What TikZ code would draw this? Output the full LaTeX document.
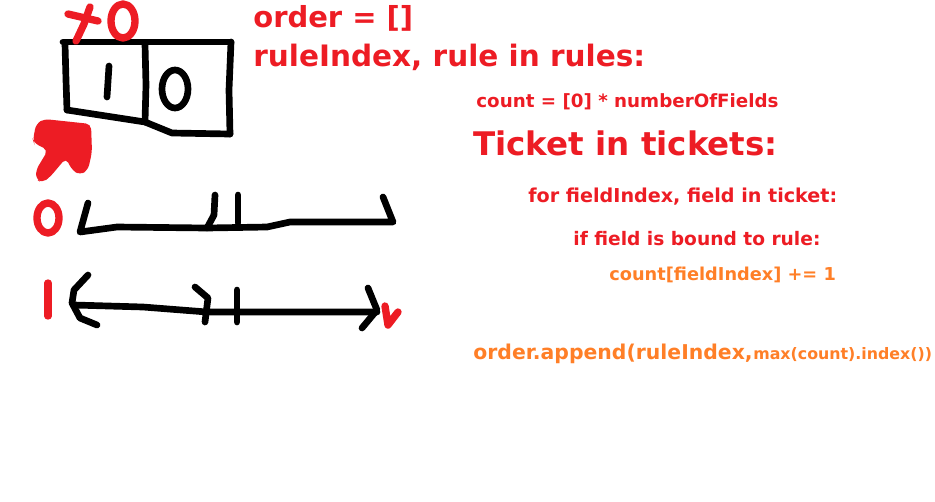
\documentclass[tikz,border=0pt]{standalone}
\usepackage{fontspec}
\setmainfont{DejaVu Sans}
\usepackage{tikz}
\usetikzlibrary{positioning}
\definecolor{sketchred}{RGB}{237,28,36}
\definecolor{sketchorange}{RGB}{255,127,39}
\newcommand{\inkcolor}{black}
\newcommand{\penwidth}{3.8pt}
\tikzset{
  ink/.style={draw=\inkcolor, line width=\penwidth, line cap=round, line join=round},
  redink/.style={draw=sketchred, line width=1.1*\penwidth, line cap=round, line join=round},
  code/.style={anchor=base west, inner sep=0pt, font=\bfseries},
}

\begin{document}
\begin{tikzpicture}[x=0.02cm, y=-0.02cm]
\useasboundingbox[fill=white] (0,0) rectangle (935,501);
%box
\draw[ink] (63,42) -- (231,42);
\draw[ink] (65,44) -- (66,80) -- (67,110);
\draw[ink] (67,110) -- (145,122) -- (172,133) -- (230,134);
\draw[ink] (231,42) -- (229,90) -- (230,134);
\draw[ink] (145,44) -- (146,85) -- (145,122);
\draw[ink] (109,66) -- (107,97);
\draw[ink] (175,89) ellipse (13 and 19);
%x0
\draw[redink] (68,14) -- (98,21);
\draw[redink] (90,7) -- (84,24) -- (76,41);
\draw[redink] (123,21) ellipse (12 and 17);
%pointer
\fill[sketchred, rounded corners=3pt] (33,140) -- (36,124) -- (44,119) -- (91,124) -- (92,152) -- (88,170) -- (80,175) -- (72,170) -- (66,158) -- (50,177) -- (42,183) -- (36,179) -- (36,170) -- (48,150) -- (34,143) -- cycle;
%line 0
\draw[redink] (48,218) ellipse (11 and 15);
\draw[ink] (88,203) -- (80,232) -- (117,227) -- (207,228) -- (267,227) -- (290,222) -- (393,222) -- (383,197);
\draw[ink] (215,195) -- (214,215) -- (207,228);
\draw[ink] (238,195) -- (238,223);
%line 1
\draw[redink] (48,283) -- (48,316);
\draw[ink] (88,275) -- (74,290) -- (72,303) -- (80,318) -- (97,325);
\draw[ink] (74,305) -- (143,307) -- (207,312) -- (377,312);
\draw[ink] (195,287) -- (208,298) -- (205,322);
\draw[ink] (237,290) -- (237,322);
\draw[ink] (368,288) -- (377,310) -- (362,328);
\draw[redink] (385,306) -- (388,325) -- (398,312);
%code
\node[code, text=sketchred, font=\bfseries\fontsize{16.5}{18}\selectfont] (order) at (253,27) {order = []};
\node[code, text=sketchred, font=\bfseries\fontsize{16.8}{18}\selectfont] (ruleloop) at (253,66) {ruleIndex, rule in rules:};
\node[code, text=sketchred, font=\bfseries\fontsize{10.4}{12}\selectfont] (countinit) at (476,107) {count = [0] * numberOfFields};
\node[code, text=sketchred, font=\bfseries\fontsize{18.5}{20}\selectfont] (ticketloop) at (473,155) {Ticket in tickets:};
\node[code, text=sketchred, font=\bfseries\fontsize{10.9}{12}\selectfont] (fieldloop) at (528,202) {for fieldIndex, field in ticket:};
\node[code, text=sketchred, font=\bfseries\fontsize{10.6}{12}\selectfont] (boundif) at (573,245) {if field is bound to rule:};
\node[code, text=sketchorange, font=\bfseries\fontsize{10.1}{12}\selectfont] (countinc) at (609,280) {count[fieldIndex] += 1};
\node[code, text=sketchorange, font=\bfseries\fontsize{11.6}{13}\selectfont] (append) at (473,359) {order.append(ruleIndex,};
\node[code, text=sketchorange, font=\bfseries\fontsize{9}{11}\selectfont] (appendmax) at (append.base east) {max(count).index())};
\end{tikzpicture}
\end{document}
